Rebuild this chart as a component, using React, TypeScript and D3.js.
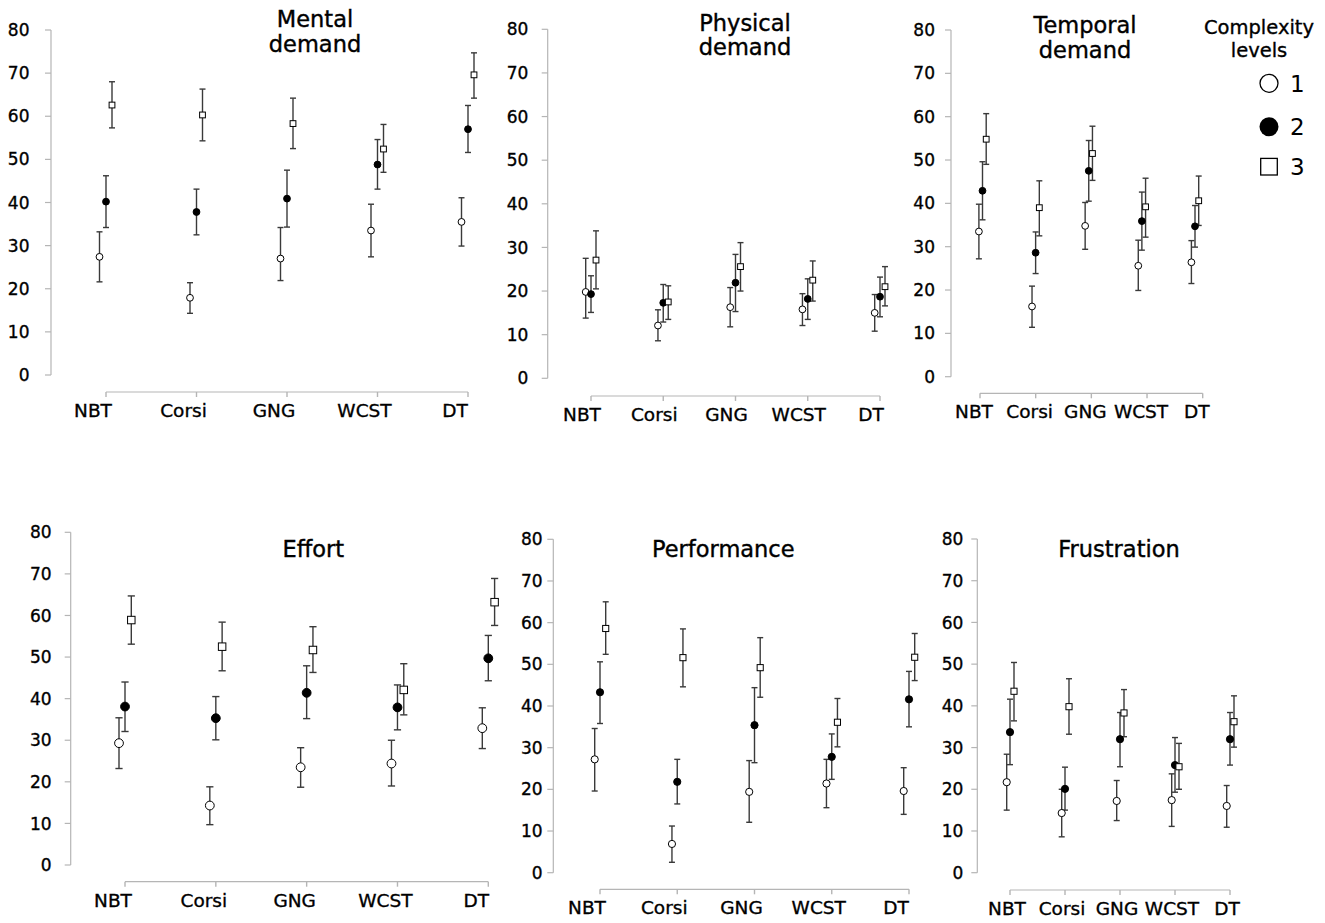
import React from "react";
import * as d3 from "d3";

// ---------- data ----------
const categories = ["NBT", "Corsi", "GNG", "WCST", "DT"];
const yTicks = [0, 10, 20, 30, 40, 50, 60, 70, 80];
const levelLabels = ["1", "2", "3"];
const legendTitle = ["Complexity", "levels"];

// each: [level1, level2, level3] x categories
const mentalMean = [[27.4, 17.9, 27.0, 33.5, 35.5], [40.2, 37.8, 40.9, 48.8, 57.0], [62.6, 60.3, 58.3, 52.4, 69.6]];
const mentalHigh = [[33.2, 21.4, 34.2, 39.6, 41.1], [46.2, 43.1, 47.5, 54.6, 62.5], [68.0, 66.3, 64.2, 58.1, 74.7]];
const mentalLow = [[21.6, 14.3, 21.9, 27.4, 29.9], [34.2, 32.5, 34.3, 43.1, 51.6], [57.3, 54.3, 52.5, 47.0, 64.2]];

const physicalMean = [[19.8, 12.1, 16.3, 15.8, 15.0], [19.3, 17.3, 21.9, 18.2, 18.7], [27.1, 17.5, 25.6, 22.5, 21.0]];
const physicalHigh = [[27.5, 15.7, 20.8, 19.4, 19.2], [23.5, 21.5, 28.4, 22.8, 23.2], [33.8, 21.2, 31.1, 26.9, 25.6]];
const physicalLow = [[13.8, 8.6, 11.8, 12.1, 10.8], [15.1, 12.9, 15.3, 13.5, 14.1], [20.5, 13.5, 20.0, 17.7, 16.6]];

const temporalMean = [[33.5, 16.2, 34.8, 25.6, 26.4], [42.9, 28.6, 47.5, 35.9, 34.7], [54.8, 39.0, 51.5, 39.2, 40.6]];
const temporalHigh = [[39.8, 20.9, 40.2, 31.5, 31.4], [49.6, 33.4, 54.5, 42.6, 39.5], [60.7, 45.2, 57.8, 45.8, 46.3]];
const temporalLow = [[27.2, 11.4, 29.4, 19.9, 21.5], [36.2, 23.8, 40.5, 29.2, 29.9], [49.0, 32.5, 45.3, 32.2, 34.9]];

const effortMean = [[29.3, 14.3, 23.5, 24.4, 32.9], [38.1, 35.3, 41.4, 37.9, 49.7], [58.9, 52.5, 51.7, 42.1, 63.2]];
const effortHigh = [[35.4, 18.8, 28.2, 30.0, 37.8], [44.0, 40.5, 47.9, 43.3, 55.2], [64.7, 58.4, 57.3, 48.4, 68.9]];
const effortLow = [[23.2, 9.7, 18.7, 19.0, 28.0], [32.1, 30.1, 35.2, 32.5, 44.3], [53.1, 46.7, 46.3, 36.1, 57.6]];

const performanceMean = [[27.2, 6.9, 19.4, 21.4, 19.6], [43.3, 21.8, 35.4, 27.8, 41.6], [58.6, 51.6, 49.2, 36.1, 51.7]];
const performanceHigh = [[34.6, 11.2, 26.9, 27.2, 25.2], [50.6, 27.2, 44.4, 33.3, 48.3], [65.0, 58.5, 56.4, 41.8, 57.4]];
const performanceLow = [[19.6, 2.5, 12.1, 15.6, 14.0], [35.8, 16.5, 26.4, 22.4, 35.0], [52.4, 44.6, 42.1, 30.2, 46.1]];

const frustrationMean = [[21.7, 14.3, 17.2, 17.4, 16.0], [33.7, 20.1, 32.0, 25.8, 32.0], [43.5, 39.8, 38.3, 25.4, 36.2]];
const frustrationHigh = [[28.4, 20.0, 22.1, 23.7, 20.9], [41.6, 25.3, 38.4, 32.4, 38.4], [50.4, 46.5, 43.9, 31.0, 42.4]];
const frustrationLow = [[15.0, 8.6, 12.5, 11.1, 10.9], [25.9, 15.0, 25.4, 19.3, 25.8], [36.4, 33.2, 32.6, 20.0, 30.1]];

// ---------- layout ----------
type Panel = {
  title: string[];
  mean: number[][];
  high: number[][];
  low: number[][];
  axisX: number;
  y0: number;
  y80: number;
  xAxisY: number;
  xRange: [number, number];
  pointRange?: [number, number];
  levelOffsets: number[];
  titleX: number;
  titleY: number[];
  tickLabelGap: number;
  labelDx: number;
  marker: number;
};

const panels: Panel[] = [
  { title: ["Mental", "demand"], mean: mentalMean, high: mentalHigh, low: mentalLow,
    axisX: 51, y0: 375, y80: 30, xAxisY: 392, xRange: [106, 468], levelOffsets: [-6.5, 0, 6],
    titleX: 315, titleY: [27, 51.5], tickLabelGap: 21.5, labelDx: -13, marker: 3.4 },
  { title: ["Physical", "demand"], mean: physicalMean, high: physicalHigh, low: physicalLow,
    axisX: 547.7, y0: 378.3, y80: 29.3, xAxisY: 396, xRange: [591, 880], levelOffsets: [-5.3, 0, 5],
    titleX: 745, titleY: [30.7, 55], tickLabelGap: 19.4, labelDx: -9, marker: 3.4 },
  { title: ["Temporal", "demand"], mean: temporalMean, high: temporalHigh, low: temporalLow,
    axisX: 951, y0: 376.7, y80: 30, xAxisY: 393.3, xRange: [980, 1202.7], pointRange: [982.5, 1195],
    levelOffsets: [-3.6, 0, 3.7], titleX: 1085, titleY: [33, 57.5], tickLabelGap: 16, labelDx: -6, marker: 3.4 },
  { title: ["Effort"], mean: effortMean, high: effortHigh, low: effortLow,
    axisX: 70.7, y0: 865, y80: 532.3, xAxisY: 881.7, xRange: [125, 488.3], levelOffsets: [-6, 0, 6.3],
    titleX: 313.3, titleY: [557.3], tickLabelGap: 19, labelDx: -12, marker: 4.4 },
  { title: ["Performance"], mean: performanceMean, high: performanceHigh, low: performanceLow,
    axisX: 553.3, y0: 872.7, y80: 539.3, xAxisY: 889.3, xRange: [600, 909], levelOffsets: [-5.3, 0, 5.7],
    titleX: 723.3, titleY: [557.3], tickLabelGap: 10.6, labelDx: -13, marker: 3.6 },
  { title: ["Frustration"], mean: frustrationMean, high: frustrationHigh, low: frustrationLow,
    axisX: 977.3, y0: 872.7, y80: 539, xAxisY: 890, xRange: [1010, 1230], levelOffsets: [-3.3, 0, 4],
    titleX: 1119, titleY: [557.3], tickLabelGap: 14, labelDx: -3, marker: 3.6 },
];

const FONT = "'DejaVu Sans', sans-serif";
const AXIS = "#b5b5b5";
const BAR = "#3a3a3a";
const textStyle = { paintOrder: "stroke" as const };

function Marker({ level, cx, cy, r }: { level: number; cx: number; cy: number; r: number }) {
  if (level === 0) return <circle cx={cx} cy={cy} r={r} fill="#fff" stroke="#000" strokeWidth={1} />;
  if (level === 1) return <circle cx={cx} cy={cy} r={r} fill="#000" stroke="#000" strokeWidth={1} />;
  const s = r * 1.7;
  return <rect x={cx - s / 2} y={cy - s / 2} width={s} height={s} fill="#fff" stroke="#000" strokeWidth={1} />;
}

function PanelView({ p }: { p: Panel }) {
  const y = d3.scaleLinear().domain([0, 80]).range([p.y0, p.y80]);
  const x = d3.scalePoint<string>().domain(categories).range(p.xRange);
  const xp = p.pointRange ? d3.scalePoint<string>().domain(categories).range(p.pointRange) : x;
  const capW = p.marker > 4 ? 3.6 : 3;
  return (
    <g>
      {/* y axis */}
      <line x1={p.axisX} x2={p.axisX} y1={y(0)} y2={y(80)} stroke={AXIS} strokeWidth={1.2} />
      {yTicks.map((t) => (
        <g key={t}>
          <line x1={p.axisX - 6} x2={p.axisX} y1={y(t)} y2={y(t)} stroke={AXIS} strokeWidth={1.2} />
          <text x={p.axisX - p.tickLabelGap} y={y(t)} dy="0.36em" textAnchor="end" fontFamily={FONT} fontSize={17}
            fill="#000" stroke="#000" strokeWidth={0.35} style={textStyle}>
            {t}
          </text>
        </g>
      ))}
      {/* x axis */}
      <line x1={p.xRange[0]} x2={p.xRange[1]} y1={p.xAxisY} y2={p.xAxisY} stroke={AXIS} strokeWidth={1.2} />
      {categories.map((c) => (
        <g key={c}>
          <line x1={x(c)!} x2={x(c)!} y1={p.xAxisY} y2={p.xAxisY + 5} stroke={AXIS} strokeWidth={1.4} />
          <text x={x(c)! + p.labelDx} y={p.xAxisY + 25} textAnchor="middle" fontFamily={FONT} fontSize={18.5}
            fill="#000" stroke="#000" strokeWidth={0.35} style={textStyle}>
            {c}
          </text>
        </g>
      ))}
      {/* title */}
      {p.title.map((t, i) => (
        <text key={t} x={p.titleX} y={p.titleY[i]} textAnchor="middle" fontFamily={FONT} fontSize={22.5}
          fill="#000" stroke="#000" strokeWidth={0.4} style={textStyle}>
          {t}
        </text>
      ))}
      {/* error bars */}
      {p.mean.map((series, li) =>
        series.map((m, ci) => {
          const cx = xp(categories[ci])! + p.levelOffsets[li];
          const yh = y(p.high[li][ci]);
          const yl = y(p.low[li][ci]);
          return (
            <g key={`e${li}-${ci}`} stroke={BAR} strokeWidth={1.4}>
              <line x1={cx} x2={cx} y1={yh} y2={yl} />
              <line x1={cx - capW} x2={cx + capW} y1={yh} y2={yh} />
              <line x1={cx - capW} x2={cx + capW} y1={yl} y2={yl} />
            </g>
          );
        })
      )}
      {/* markers */}
      {p.mean.map((series, li) =>
        series.map((m, ci) => (
          <Marker key={`m${li}-${ci}`} level={li} cx={xp(categories[ci])! + p.levelOffsets[li]} cy={y(m)} r={p.marker} />
        ))
      )}
    </g>
  );
}

function Legend() {
  const lx = 1269;
  const ys = [83.3, 126.7, 166.7];
  return (
    <g>
      {legendTitle.map((t, i) => (
        <text key={t} x={1259} y={34 + i * 23} textAnchor="middle" fontFamily={FONT} fontSize={19.5}
          fill="#000" stroke="#000" strokeWidth={0.35} style={textStyle}>
          {t}
        </text>
      ))}
      {levelLabels.map((l, i) => (
        <g key={l}>
          {i === 0 && <circle cx={lx} cy={ys[i]} r={9} fill="#fff" stroke="#000" strokeWidth={1.3} />}
          {i === 1 && <circle cx={lx} cy={ys[i]} r={9.5} fill="#000" />}
          {i === 2 && <rect x={lx - 8.3} y={ys[i] - 8.3} width={16.6} height={16.6} fill="#fff" stroke="#000" strokeWidth={1.3} />}
          <text x={1290} y={ys[i]} dy="0.36em" fontFamily={FONT} fontSize={23} fill="#000">
            {l}
          </text>
        </g>
      ))}
    </g>
  );
}

export default function App() {
  return (
    <svg
      width={1325}
      height={923}
      viewBox="0 0 1325 923"
      style={{ position: "absolute", left: 0, top: 0, background: "#fff" }}
    >
      <rect width={1325} height={923} fill="#fff" />
      {panels.map((p, i) => (
        <PanelView key={i} p={p} />
      ))}
      <Legend />
    </svg>
  );
}
